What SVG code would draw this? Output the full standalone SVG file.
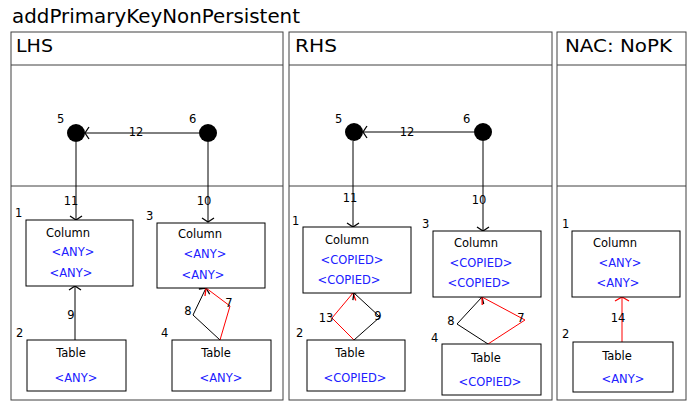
<svg xmlns="http://www.w3.org/2000/svg" width="687" height="403" viewBox="0 0 687 403">
<defs>
<style>
text{font-family:"DejaVu Sans","Verdana",sans-serif;font-size:11.5px;fill:#000}
.title{font-size:19px}
.hdr{font-size:18px}
.v{fill:#2020ff;text-anchor:middle}
.t{text-anchor:middle}
.m{text-anchor:middle}
.panel{fill:#fff;stroke:#404040;stroke-width:1}
.sep{stroke:#404040;stroke-width:1}
.box{fill:#fff;stroke:#000;stroke-width:1}
.e{fill:none;stroke:#000;stroke-width:1;marker-end:url(#ab)}
.r{fill:none;stroke:#f00;stroke-width:1;marker-end:url(#ar)}
</style>
<marker id="ab" markerUnits="userSpaceOnUse" orient="auto" viewBox="-7 -9 8 18" refX="0" refY="0" markerWidth="8" markerHeight="18" overflow="visible"><path d="M-4,-6 L0,0 L-4,6" fill="none" stroke="#000" stroke-width="1.3"/></marker>
<marker id="ar" markerUnits="userSpaceOnUse" orient="auto" viewBox="-7 -9 8 18" refX="0" refY="0" markerWidth="8" markerHeight="18" overflow="visible"><path d="M-4,-7 L0,0 L-4,7" fill="none" stroke="#f00" stroke-width="1.3"/></marker>
</defs>
<rect width="687" height="403" fill="#fff"/>
<text class="title" x="12" y="23" textLength="288" lengthAdjust="spacingAndGlyphs">addPrimaryKeyNonPersistent</text>

<g id="panel-lhs">
<rect class="panel" x="11" y="32" width="272" height="368"/>
<line class="sep" x1="11" y1="65" x2="283" y2="65"/>
<line class="sep" x1="11" y1="186" x2="283" y2="186"/>
<text class="hdr" x="16" y="52" textLength="37" lengthAdjust="spacingAndGlyphs">LHS</text>
</g>
<g id="panel-rhs">
<rect class="panel" x="289" y="32" width="263" height="368"/>
<line class="sep" x1="289" y1="65" x2="552" y2="65"/>
<line class="sep" x1="289" y1="186" x2="552" y2="186"/>
<text class="hdr" x="295" y="52" textLength="42" lengthAdjust="spacingAndGlyphs">RHS</text>
</g>
<g id="panel-nac">
<rect class="panel" x="557" y="32" width="129" height="368"/>
<line class="sep" x1="557" y1="65" x2="686" y2="65"/>
<line class="sep" x1="557" y1="186" x2="686" y2="186"/>
<text class="hdr" x="565" y="52" textLength="107" lengthAdjust="spacingAndGlyphs">NAC: NoPK</text>
</g>

<g id="connectors">
<!-- LHS -->
<line class="e" x1="199" y1="133" x2="85" y2="133"/>
<line class="e" x1="76" y1="142" x2="76" y2="220"/>
<line class="e" x1="208" y1="142" x2="208" y2="222"/>
<line class="e" x1="75" y1="340" x2="75" y2="286"/>
<polyline class="e" points="220,340 193,315 206,288"/>
<polyline class="r" points="220,340 230,306 206,288"/>
<!-- RHS -->
<line class="e" x1="474" y1="132" x2="363" y2="132"/>
<line class="e" x1="353" y1="141" x2="353" y2="227"/>
<line class="e" x1="483" y1="141" x2="483" y2="231"/>
<polyline class="r" points="354,340 332,318 353,293"/>
<polyline class="e" points="354,340 380,317 354,293"/>
<polyline class="e" points="488,344 457,324 482,297"/>
<polyline class="r" points="488,344 525,320 482,297"/>
<!-- NAC -->
<line class="r" x1="622" y1="342" x2="622" y2="297"/>
<!-- labels -->
<text class="m" x="136" y="136">12</text>
<text class="m" x="71" y="205">11</text>
<text class="m" x="204" y="205">10</text>
<text class="m" x="71" y="319">9</text>
<text class="m" x="188" y="315">8</text>
<text class="m" x="229" y="307">7</text>
<text class="m" x="407" y="136">12</text>
<text class="m" x="350" y="202">11</text>
<text class="m" x="479" y="204">10</text>
<text class="m" x="326" y="322">13</text>
<text class="m" x="378" y="320">9</text>
<text class="m" x="451" y="325">8</text>
<text class="m" x="521" y="322">7</text>
<text class="m" x="618" y="322">14</text>
</g>

<!-- LHS nodes -->
<g id="lhs-5"><circle cx="76" cy="133" r="9" fill="#000"/><text x="57" y="123">5</text></g>
<g id="lhs-6"><circle cx="208" cy="133" r="9" fill="#000"/><text x="189" y="123">6</text></g>
<g id="lhs-1"><rect class="box" x="26" y="220" width="107" height="66"/><text x="15" y="217">1</text>
<text class="t" x="68" y="237">Column</text><text class="v" x="73" y="256">&lt;ANY&gt;</text><text class="v" x="71" y="277">&lt;ANY&gt;</text></g>
<g id="lhs-3"><rect class="box" x="157" y="223" width="108" height="65"/><text x="146" y="220">3</text>
<text class="t" x="200" y="238">Column</text><text class="v" x="205" y="258">&lt;ANY&gt;</text><text class="v" x="203" y="279">&lt;ANY&gt;</text></g>
<g id="lhs-2"><rect class="box" x="27" y="340" width="99" height="51"/><text x="16" y="337">2</text>
<text class="t" x="71" y="357">Table</text><text class="v" x="76" y="382">&lt;ANY&gt;</text></g>
<g id="lhs-4"><rect class="box" x="172" y="340" width="99" height="51"/><text x="161" y="337">4</text>
<text class="t" x="216" y="357">Table</text><text class="v" x="221" y="382">&lt;ANY&gt;</text></g>

<!-- RHS nodes -->
<g id="rhs-5"><circle cx="354" cy="132" r="9" fill="#000"/><text x="335" y="123">5</text></g>
<g id="rhs-6"><circle cx="483" cy="132" r="9" fill="#000"/><text x="463" y="123">6</text></g>
<g id="rhs-1"><rect class="box" x="303" y="227" width="108" height="66"/><text x="292" y="225">1</text>
<text class="t" x="347" y="244">Column</text><text class="v" x="352" y="264">&lt;COPIED&gt;</text><text class="v" x="349" y="284">&lt;COPIED&gt;</text></g>
<g id="rhs-3"><rect class="box" x="433" y="231" width="108" height="66"/><text x="422" y="228">3</text>
<text class="t" x="476" y="247">Column</text><text class="v" x="481" y="267">&lt;COPIED&gt;</text><text class="v" x="479" y="287">&lt;COPIED&gt;</text></g>
<g id="rhs-2"><rect class="box" x="307" y="340" width="98" height="51"/><text x="296" y="337">2</text>
<text class="t" x="350" y="357">Table</text><text class="v" x="355" y="382">&lt;COPIED&gt;</text></g>
<g id="rhs-4"><rect class="box" x="442" y="344" width="99" height="51"/><text x="431" y="342">4</text>
<text class="t" x="486" y="362">Table</text><text class="v" x="490" y="386">&lt;COPIED&gt;</text></g>

<!-- NAC nodes -->
<g id="nac-1"><rect class="box" x="572" y="231" width="108" height="66"/><text x="562" y="228">1</text>
<text class="t" x="615" y="247">Column</text><text class="v" x="620" y="267">&lt;ANY&gt;</text><text class="v" x="618" y="287">&lt;ANY&gt;</text></g>
<g id="nac-2"><rect class="box" x="573" y="342" width="100" height="50"/><text x="562" y="338">2</text>
<text class="t" x="617" y="360">Table</text><text class="v" x="623" y="383">&lt;ANY&gt;</text></g>
</svg>
